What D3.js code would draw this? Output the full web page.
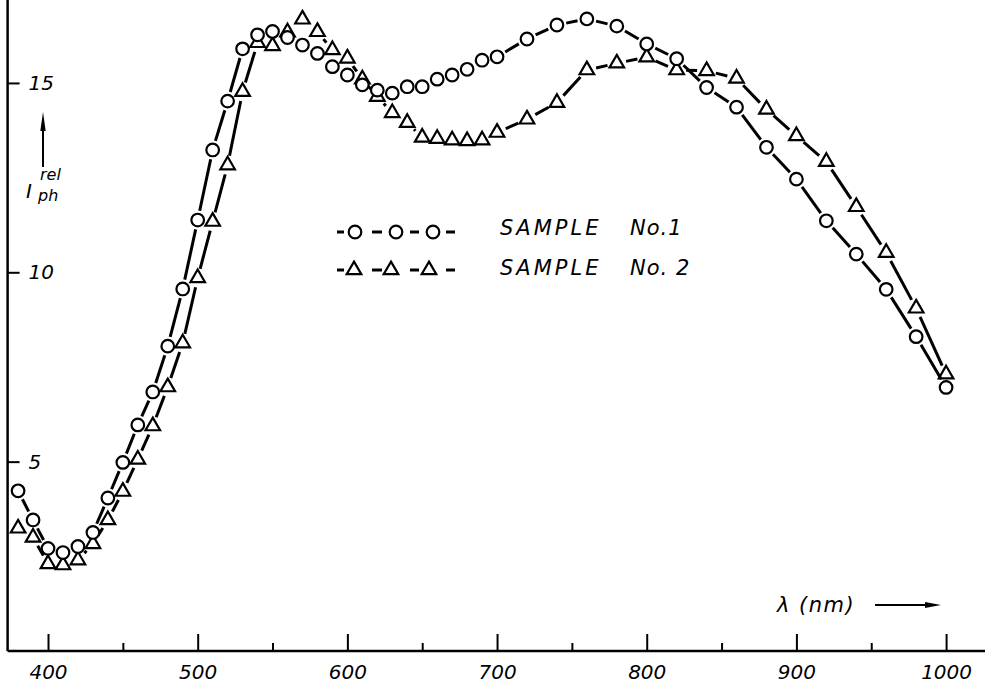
<!DOCTYPE html>
<html><head><meta charset="utf-8">
<script src="https://cdn.jsdelivr.net/npm/d3@7"></script>
<style>
html,body{margin:0;padding:0;background:#fff;}
svg{display:block;}
text{font-family:"DejaVu Sans",sans-serif;font-style:italic;fill:#000;}
</style></head><body>
<svg id="chart" width="985" height="685"></svg>
<script>
// wavelengths (nm)
const wavelengths = [380,390,400,410,420,430,440,450,460,470,480,490,500,510,520,530,540,550,560,570,580,590,600,610,620,630,640,650,660,670,680,690,700,720,740,760,780,800,820,840,860,880,900,920,940,960,980,1000];
// SAMPLE No.1 (circles)
const sample1 = [4.23,3.46,2.71,2.60,2.76,3.13,4.04,4.98,5.97,6.84,8.05,9.56,11.38,13.23,14.52,15.90,16.27,16.36,16.20,16.00,15.78,15.43,15.21,14.95,14.81,14.73,14.90,14.90,15.10,15.21,15.36,15.60,15.69,16.16,16.53,16.69,16.50,16.03,15.64,14.88,14.36,13.30,12.46,11.36,10.48,9.55,8.30,6.96];
// SAMPLE No.2 (triangles)
const sample2 = [3.24,3.00,2.30,2.27,2.40,2.83,3.46,4.21,5.06,5.94,6.97,8.13,9.85,11.34,12.83,14.77,16.06,15.98,16.34,16.68,16.35,15.87,15.65,15.10,14.64,14.21,13.95,13.56,13.53,13.49,13.47,13.49,13.69,14.04,14.48,15.34,15.52,15.68,15.34,15.32,15.12,14.30,13.60,12.92,11.73,10.52,9.05,7.31];
const xMajorTicks = [400,500,600,700,800,900,1000];
const xMinorTicks = [450,550,650,750,850,950];
const yTicks = [5,10,15];
const seriesNames = ["SAMPLE", "SAMPLE"];
const seriesNumbers = ["No.1", "No. 2"];

const svg = d3.select("#chart");
const W = 985, H = 685;
svg.append("rect").attr("width", W).attr("height", H).attr("fill", "#fff");

const x = d3.scaleLinear().domain([373, 1026]).range([7.6, 985]);
const y = d3.scaleLinear().domain([0, 17.19]).range([651, 0]);

// X axis: major ticks (upward) with labels
const xAxisG = svg.append("g").attr("transform", `translate(0,${y(0)})`);
xAxisG.call(d3.axisBottom(x).tickValues(xMajorTicks).tickFormat(d3.format("d"))
    .tickSizeInner(-17).tickSizeOuter(0).tickPadding(0))
  .call(g => g.select(".domain").remove());
xAxisG.selectAll(".tick line").attr("stroke", "#000").attr("stroke-width", 2);
xAxisG.selectAll(".tick text").attr("font-size", 20).attr("font-family", "DejaVu Sans")
  .attr("font-style", "italic").attr("dy", null).attr("y", 28);
// minor ticks
const xMinorG = svg.append("g").attr("transform", `translate(0,${y(0)})`);
xMinorG.call(d3.axisBottom(x).tickValues(xMinorTicks).tickSizeInner(-8).tickSizeOuter(0).tickFormat(""))
  .call(g => g.select(".domain").remove());
xMinorG.selectAll(".tick line").attr("stroke", "#000").attr("stroke-width", 2);
// x axis line
svg.append("line").attr("x1", x.range()[0]).attr("x2", x.range()[1])
  .attr("y1", y(0)).attr("y2", y(0)).attr("stroke", "#000").attr("stroke-width", 2.5);

// Y axis
const yAxisG = svg.append("g").attr("transform", `translate(${x(373)},0)`);
yAxisG.call(d3.axisRight(y).tickValues(yTicks).tickSizeInner(12).tickSizeOuter(0).tickPadding(9))
  .call(g => g.select(".domain").remove());
yAxisG.selectAll(".tick line").attr("stroke", "#000").attr("stroke-width", 2);
yAxisG.selectAll(".tick text").attr("font-size", 20).attr("font-family", "DejaVu Sans").attr("font-style", "italic").attr("text-anchor", "start");
svg.append("line").attr("x1", x(373)).attr("x2", x(373))
  .attr("y1", y.range()[0]).attr("y2", y.range()[1]).attr("stroke", "#000").attr("stroke-width", 2.5);

// Y label: arrow + I_ph^rel
svg.append("line").attr("x1", 43).attr("x2", 43).attr("y1", 167).attr("y2", 126).attr("stroke", "#000").attr("stroke-width", 2);
svg.append("path").attr("d", "M43,112 L40.3,131 L45.7,131 Z").attr("fill", "#000");
svg.append("text").attr("x", 26).attr("y", 198).attr("font-size", 20)
  .attr("font-family", "DejaVu Serif").text("I");
svg.append("text").attr("x", 40).attr("y", 180).attr("font-size", 16).text("rel");
svg.append("text").attr("x", 38).attr("y", 201).attr("font-size", 16).text("ph");

// X label
svg.append("text").attr("x", 777).attr("y", 612).attr("font-size", 21).attr("letter-spacing", 1.5).text("λ (nm)");
svg.append("line").attr("x1", 875).attr("x2", 928).attr("y1", 605).attr("y2", 605).attr("stroke", "#000").attr("stroke-width", 2);
svg.append("path").attr("d", "M941,605 L925,602 L925,608 Z").attr("fill", "#000");

// series drawing
const GAP = 9.5;
function segments(pts) {
  return d3.pairs(pts).map(([a, b]) => {
    const dx = b[0] - a[0], dy = b[1] - a[1];
    const L = Math.hypot(dx, dy);
    if (L <= 2 * GAP + 2) return null;
    return [a[0] + dx * GAP / L, a[1] + dy * GAP / L, b[0] - dx * GAP / L, b[1] - dy * GAP / L];
  }).filter(Boolean);
}
const triPath = d3.symbol().type(d3.symbolTriangle).size(92)();

function drawSeries(vals, kind) {
  const pts = wavelengths.map((w, i) => [x(w), y(vals[i])]);
  const g = svg.append("g");
  g.selectAll("line").data(segments(pts)).join("line")
    .attr("x1", d => d[0]).attr("y1", d => d[1]).attr("x2", d => d[2]).attr("y2", d => d[3])
    .attr("stroke", "#000").attr("stroke-width", 3);
  if (kind === "circle") {
    g.selectAll("circle").data(pts).join("circle")
      .attr("cx", d => d[0]).attr("cy", d => d[1]).attr("r", 6.3)
      .attr("fill", "#fff").attr("stroke", "#000").attr("stroke-width", 2.2);
  } else {
    g.selectAll("path").data(pts).join("path")
      .attr("d", triPath).attr("transform", d => `translate(${d[0]},${d[1]})`)
      .attr("fill", "#fff").attr("stroke", "#000").attr("stroke-width", 2.2).attr("stroke-linejoin", "miter");
  }
}
drawSeries(sample2, "triangle");
drawSeries(sample1, "circle");

// Legend
const legendRows = [{y: 232, kind: "circle", name: seriesNames[0], num: seriesNumbers[0], tyB: 235},
                    {y: 270, kind: "triangle", name: seriesNames[1], num: seriesNumbers[1], tyB: 275}];
legendRows.forEach(r => {
  const lg = svg.append("g");
  const dashes = [[337, 344], [372, 382], [410, 419], [446, 455]];
  lg.selectAll("line").data(dashes).join("line")
    .attr("x1", d => d[0]).attr("x2", d => d[1]).attr("y1", r.y).attr("y2", r.y)
    .attr("stroke", "#000").attr("stroke-width", 3);
  const mx = r.kind === "circle" ? [355, 396, 433] : [354, 391, 429];
  if (r.kind === "circle") {
    lg.selectAll("circle").data(mx).join("circle").attr("cx", d => d).attr("cy", r.y).attr("r", 6.3)
      .attr("fill", "#fff").attr("stroke", "#000").attr("stroke-width", 2.2);
  } else {
    lg.selectAll("path").data(mx).join("path").attr("d", triPath)
      .attr("transform", d => `translate(${d},${r.y})`)
      .attr("fill", "#fff").attr("stroke", "#000").attr("stroke-width", 2.2);
  }
  lg.append("text").attr("x", 500).attr("y", r.tyB).attr("font-size", 21).attr("letter-spacing", 3).text(r.name);
  lg.append("text").attr("x", 630).attr("y", r.tyB).attr("font-size", 21).attr("letter-spacing", 1).text(r.num);
});
</script>
</body></html>
